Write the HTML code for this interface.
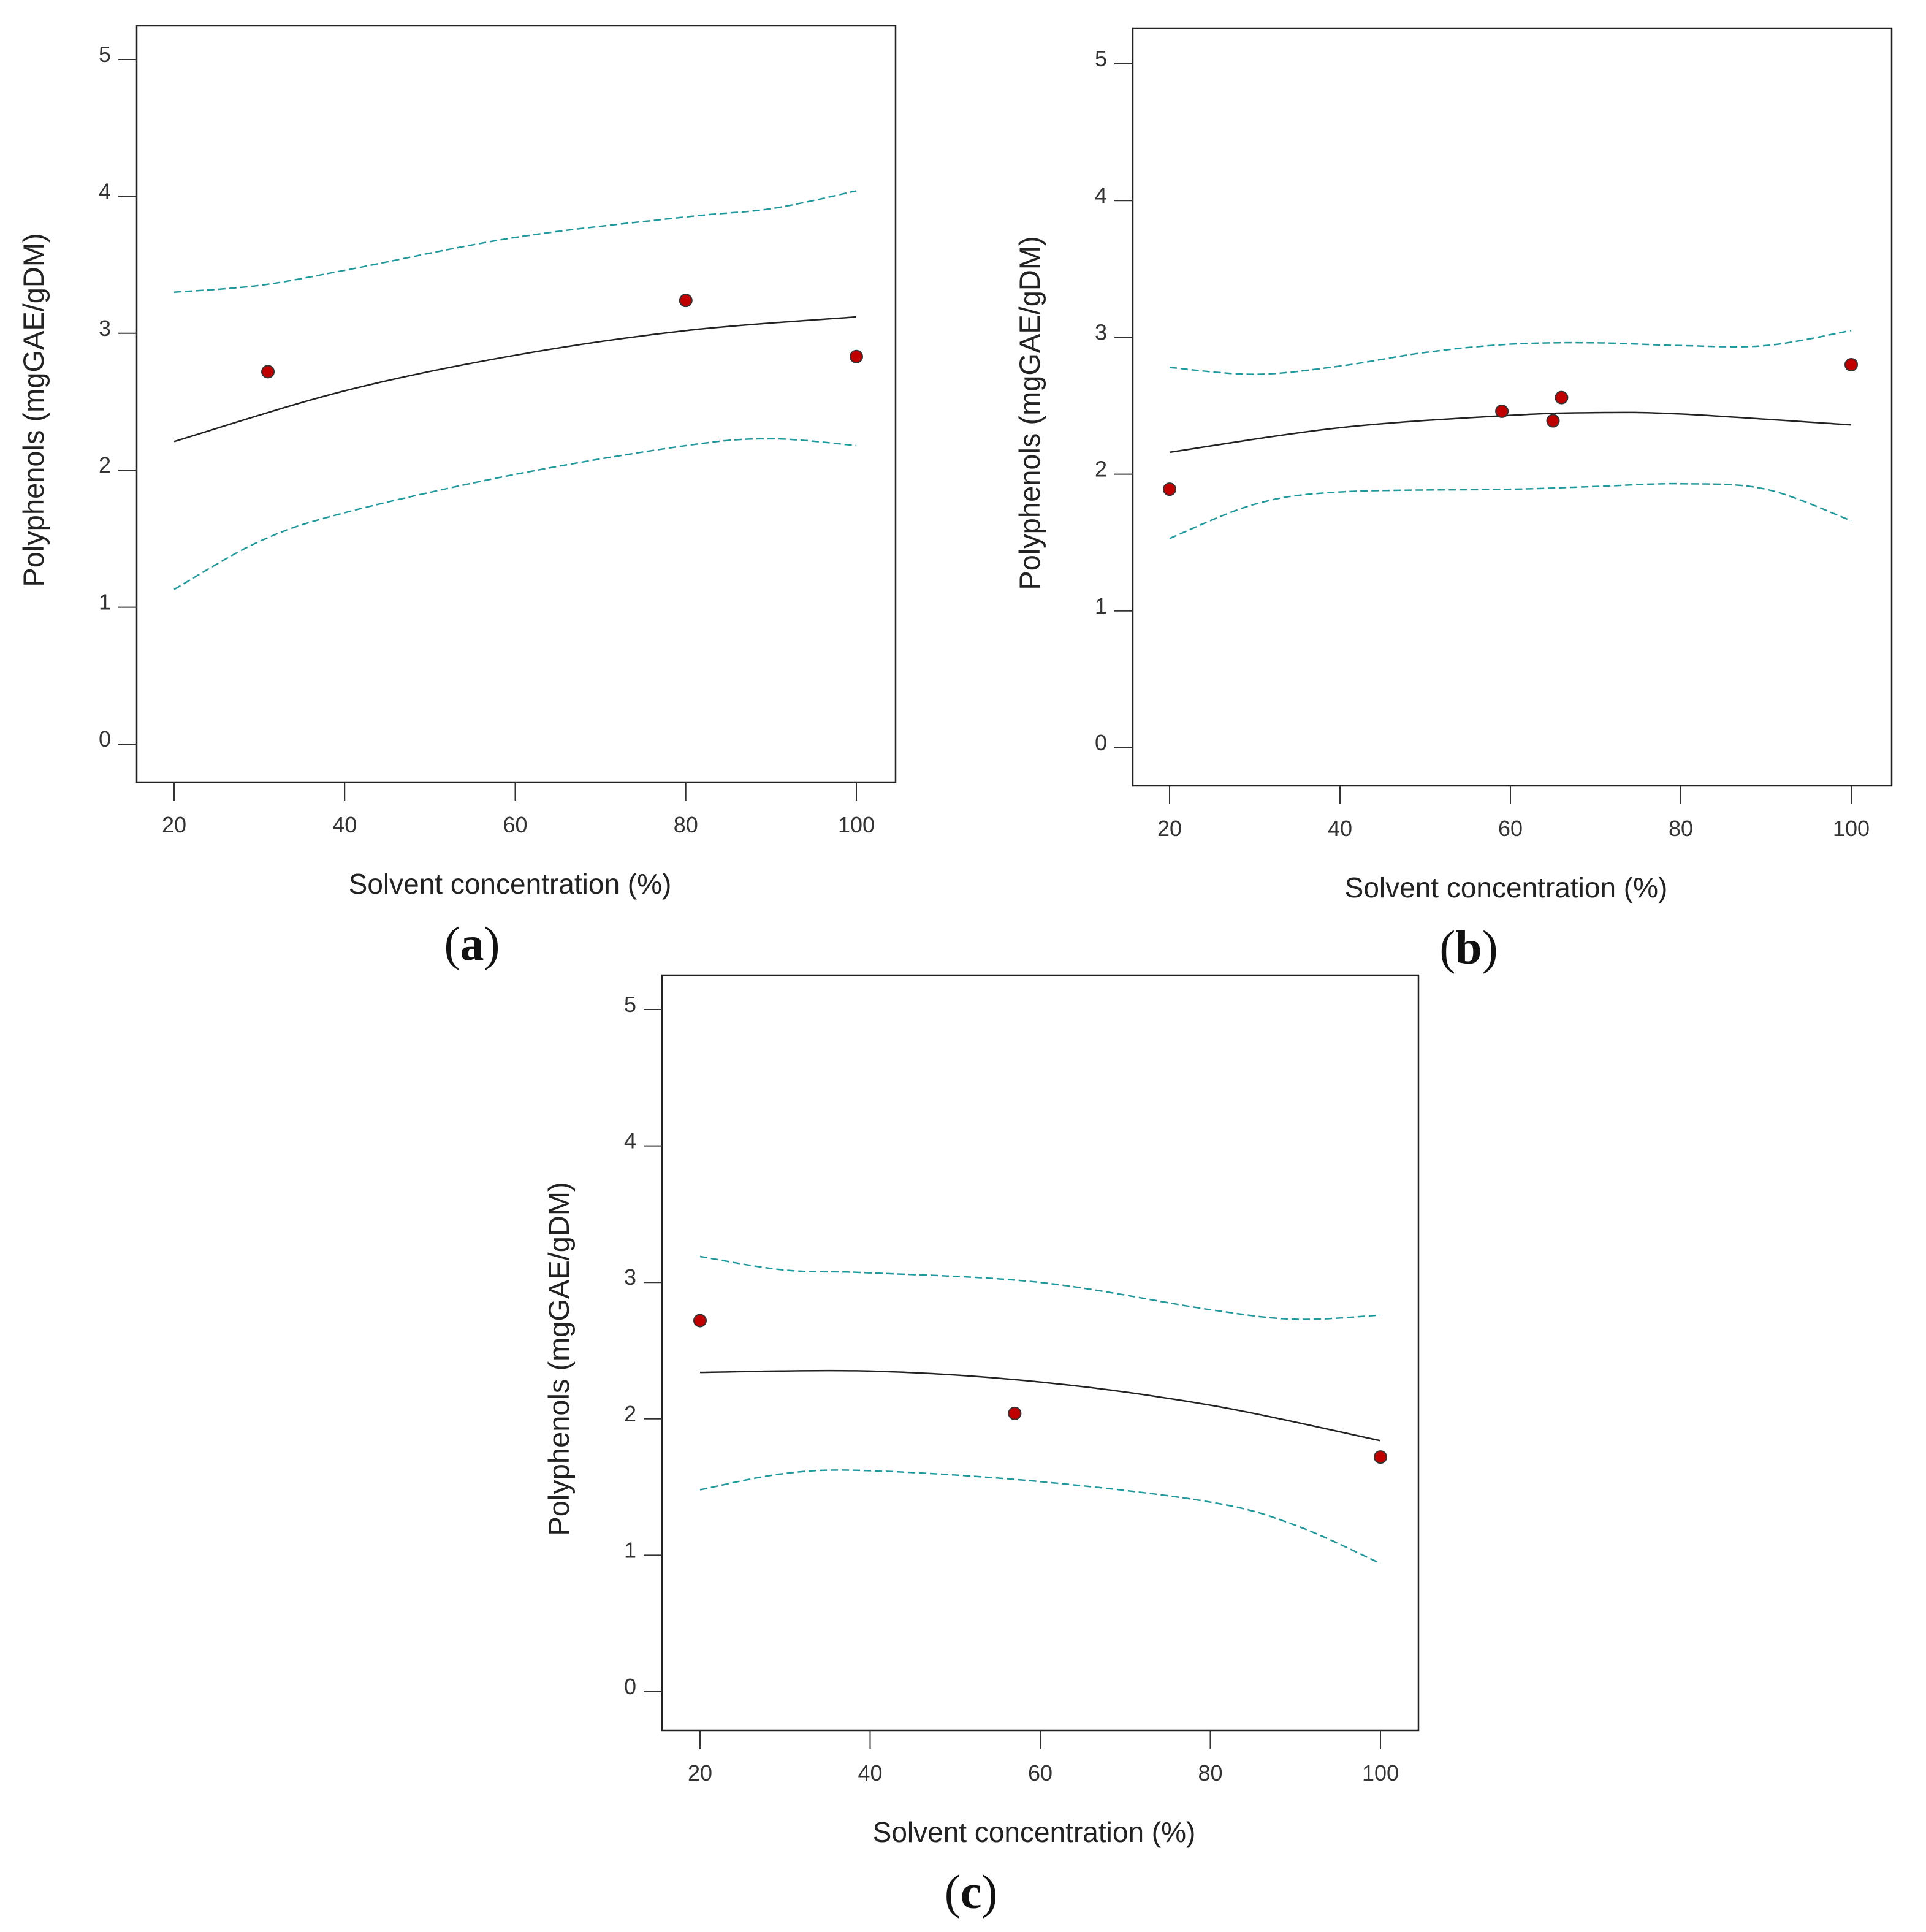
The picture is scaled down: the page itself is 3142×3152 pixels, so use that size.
<!DOCTYPE html>
<html><head><meta charset="utf-8">
<style>
html,body{margin:0;padding:0;background:#fff;}
svg{display:block;font-family:"Liberation Sans",sans-serif;}
</style></head>
<body>
<svg id="fig" width="3142" height="3152" viewBox="0 0 3142 3152"></svg>
<script>
const xTicks=[20,40,60,80,100];
const yTicks=[0,1,2,3,4,5];
const fitX=[20,40,60,80,100];
const aPtsX=[31,80,100];
const aPtsY=[2.72,3.24,2.83];
const aFitY=[2.21,2.58,2.84,3.02,3.12];
const aUpX=[20,30,40,60,80,90,100];
const aUpY=[3.30,3.35,3.46,3.70,3.85,3.91,4.04];
const aLoX=[20,30,40,60,80,90,100];
const aLoY=[1.13,1.48,1.69,1.97,2.18,2.23,2.18];
const bPtsX=[20,59,65,66,100];
const bPtsY=[1.89,2.46,2.39,2.56,2.80];
const bFitX=[20,40,60,70,80,100];
const bFitY=[2.16,2.34,2.43,2.45,2.44,2.36];
const bUpX=[20,30,40,50,60,70,80,90,100];
const bUpY=[2.78,2.73,2.79,2.89,2.95,2.96,2.94,2.94,3.05];
const bLoX=[20,30,40,60,70,80,90,100];
const bLoY=[1.53,1.78,1.87,1.89,1.91,1.93,1.89,1.66];
const cPtsX=[20,57,100];
const cPtsY=[2.72,2.04,1.72];
const cFitY=[2.34,2.35,2.27,2.10,1.84];
const cUpX=[20,30,40,60,80,90,100];
const cUpY=[3.19,3.09,3.07,3.00,2.80,2.73,2.76];
const cLoX=[20,30,40,60,80,90,100];
const cLoY=[1.48,1.60,1.62,1.54,1.39,1.22,0.94];

const NS="http://www.w3.org/2000/svg";
const svg=document.getElementById('fig');
function mk(tag,attrs,parent){const e=document.createElementNS(NS,tag);for(const k in attrs)e.setAttribute(k,attrs[k]);(parent||svg).appendChild(e);return e;}
function smooth(p){let d="M"+p[0][0]+","+p[0][1];for(let i=0;i<p.length-1;i++){const p0=p[Math.max(0,i-1)],p1=p[i],p2=p[i+1],p3=p[Math.min(p.length-1,i+2)];
const c1x=p1[0]+(p2[0]-p0[0])/6,c1y=p1[1]+(p2[1]-p0[1])/6,c2x=p2[0]-(p3[0]-p1[0])/6,c2y=p2[1]-(p3[1]-p1[1])/6;
d+=" C"+c1x+","+c1y+" "+c2x+","+c2y+" "+p2[0]+","+p2[1];}return d;}

function panel(cfg){
  const g=mk('g',{});
  
  
  const xs=v=>cfg.x20+(v-20)/80*(cfg.x100-cfg.x20);
  const ys=v=>cfg.y0+(v)/5*(cfg.y5-cfg.y0);
  const fr=mk('rect',{x:cfg.L,y:cfg.T,width:cfg.R-cfg.L,height:cfg.B-cfg.T,fill:'none',stroke:'#222','stroke-width':2.5},g);
  
  
  yTicks.forEach(t=>{const y=ys(t);
    const l=mk('line',{x1:cfg.L-30,x2:cfg.L,y1:y,y2:y,stroke:'#333','stroke-width':2},g);
    
    
    const tx=mk('text',{x:cfg.L-42,y:y+4,'font-size':36,fill:'#333','text-anchor':'end'},g);
    
    
    tx.textContent=t;});
  xTicks.forEach(t=>{const x=xs(t);
    const l=mk('line',{x1:x,x2:x,y1:cfg.B,y2:cfg.B+30,stroke:'#333','stroke-width':2},g);
    
    
    const tx=mk('text',{x:x,y:cfg.B+82,'font-size':36,fill:'#333','text-anchor':'middle'},g);
    
    
    tx.textContent=t;});
  const xt=mk('text',{x:(cfg.L+cfg.R)/2-10,y:cfg.B+182,'font-size':46,fill:'#222','text-anchor':'middle'},g);
  
  
  xt.textContent='Solvent concentration (%)';
  const ty=(cfg.T+cfg.B)/2+10;
  const cx=cfg.L-152;
  const yt=mk('text',{x:cx,y:ty,'font-size':47,fill:'#222','text-anchor':'middle',transform:'rotate(-90 '+cx+' '+ty+')'},g);
  
  
  yt.textContent='Polyphenols (mgGAE/gDM)';
  const band=(X,Y,name)=>{const p=mk('path',{d:smooth(X.map((v,i)=>[xs(v),ys(Y[i])])),fill:'none',stroke:'#1f9a9c','stroke-width':2.5,'stroke-dasharray':'12 6'},g);
    
    };
  band(cfg.upX,cfg.upY,'upper-confidence-band');
  band(cfg.loX,cfg.loY,'lower-confidence-band');
  const f=mk('path',{d:smooth(cfg.fitX.map((v,i)=>[xs(v),ys(cfg.fitY[i])])),fill:'none',stroke:'#222','stroke-width':2.5},g);
  
  
  cfg.px.forEach((v,i)=>{const c=mk('circle',{cx:xs(v),cy:ys(cfg.py[i]),r:10,fill:'#c00000',stroke:'#333','stroke-width':2},g);
    
    });
  const lab=mk('text',{x:cfg.labX,y:cfg.B+290,'font-size':78,fill:'#111','text-anchor':'middle','font-family':'Liberation Serif, serif'},g);
  
  
  lab.innerHTML='(<tspan font-weight="bold">'+cfg.id+'</tspan>)';
}
panel({id:'a',L:223,T:42,R:1461,B:1276,x20:284,x100:1397,y0:1214,y5:97,fitX:fitX,fitY:aFitY,upX:aUpX,upY:aUpY,loX:aLoX,loY:aLoY,px:aPtsX,py:aPtsY,labX:770});
panel({id:'b',L:1848,T:46,R:3086,B:1282,x20:1908,x100:3020,y0:1220,y5:104,fitX:bFitX,fitY:bFitY,upX:bUpX,upY:bUpY,loX:bLoX,loY:bLoY,px:bPtsX,py:bPtsY,labX:2396});
panel({id:'c',L:1080,T:1591,R:2314,B:2823,x20:1142,x100:2252,y0:2760,y5:1647,fitX:fitX,fitY:cFitY,upX:cUpX,upY:cUpY,loX:cLoX,loY:cLoY,px:cPtsX,py:cPtsY,labX:1584});
</script>
</body></html>
